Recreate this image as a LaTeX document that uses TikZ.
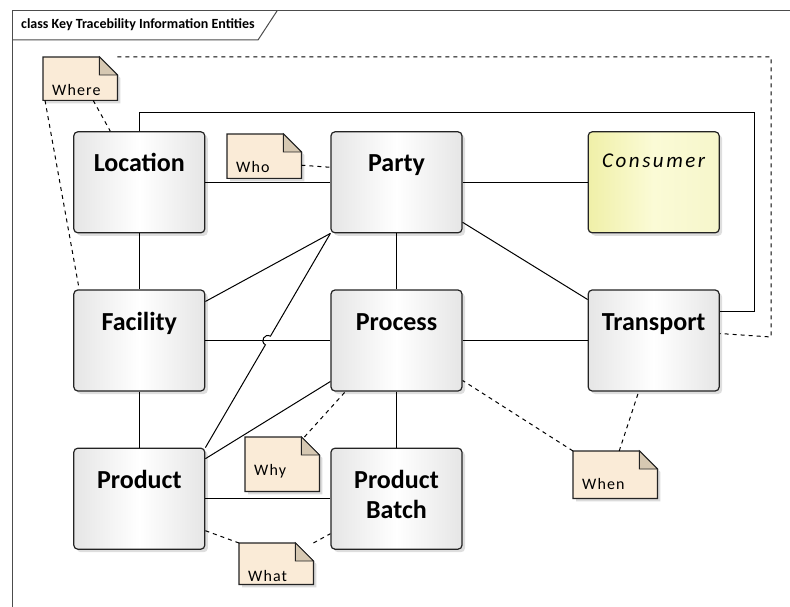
\documentclass[tikz,border=0pt]{standalone}
\usepackage{fontspec}
\setmainfont{Carlito}
\newfontfamily\notefont[LetterSpace=7]{Carlito}
\newfontfamily\consumerfont[LetterSpace=12]{Carlito}
\usetikzlibrary{matrix,shadows,calc,backgrounds}

\definecolor{notebg}{RGB}{250,235,215}
\definecolor{notefold}{RGB}{214,200,178}
\definecolor{consumerbg}{RGB}{240,240,168}
\definecolor{consumermid}{RGB}{251,251,214}
\definecolor{boxline}{RGB}{35,35,35}

% folded paper behind a note node
\newcommand{\notepaper}[1]{%
  \fill[black!14] ([shift={(3pt,-3pt)}]#1.south west) -- ([shift={(3pt,-3pt)}]#1.north west)
    -- ([shift={(-15pt,-3pt)}]#1.north east) -- ([shift={(3pt,-21pt)}]#1.north east)
    -- ([shift={(3pt,-3pt)}]#1.south east) -- cycle;
  \filldraw[fill=notebg, draw=boxline, line width=1.2pt] (#1.south west) -- (#1.north west)
    -- ([xshift=-18pt]#1.north east) -- ([yshift=-18pt]#1.north east) -- (#1.south east) -- cycle;
  \filldraw[fill=notefold, draw=boxline, line width=0.9pt] ([xshift=-18pt]#1.north east)
    -- ([shift={(-18pt,-18pt)}]#1.north east) -- ([yshift=-18pt]#1.north east) -- cycle;
}

\tikzset{
  entity/.style={draw=boxline, line width=1.2pt, rounded corners=4pt, anchor=center,
    minimum width=131pt, minimum height=101pt, inner sep=0pt,
    text height=20pt, text depth=41pt, font=\bfseries\fontsize{26}{30}\selectfont,
    left color=black!10, right color=black!10, middle color=white,
    drop shadow={shadow xshift=3pt, shadow yshift=-3pt, fill=black!13, opacity=1}},
  consumer/.style={left color=consumerbg, right color=consumerbg!60!white, middle color=consumermid,
    text height=16pt, text depth=45pt, font=\consumerfont\itshape\fontsize{21}{25}\selectfont},
  note/.style={anchor=north west, inner xsep=9pt, inner ysep=0pt, text width=56pt, align=left,
    text height=38pt, font=\notefont\fontsize{16}{18}\selectfont},
  link/.style={line width=1pt},
  trace/.style={line width=1pt, dash pattern=on 4pt off 4pt},
  frameline/.style={draw=black!70, line width=1pt}
}

\begin{document}
\begin{tikzpicture}[x=1pt, y=-1pt]
  \useasboundingbox (0,0) rectangle (790,607);
  \draw[frameline] (790,11) -- (12,11) -- (12,607);
  \draw[frameline] (12,40) -- (258,40) -- (277,11);
  \node[anchor=west, inner sep=4pt, font=\bfseries\fontsize{14}{16}\selectfont] (title) at (17,25)
    {class Key Tracebility Information Entities};

  \matrix[matrix of nodes, nodes=entity, ampersand replacement=\&, column sep=125pt, row sep=56pt] (diagram) at (396.5,340.5) {
    |(location)| Location \& |(party)| Party \& |[consumer](consumer)| Consumer \\
    |(facility)| Facility \& |(process)| Process \& |(transport)| Transport \\
    |(product)| Product \& |(productbatch)| \begin{tabular}[t]{@{}c@{}}Product\\Batch\end{tabular} \& \\
  };

  \node[note, text depth=5pt] (where) at (43,57) {Where};
  \node[note, text depth=6pt] (who) at (227,134) {Who};
  \node[note, text depth=16pt] (why) at (245,437) {Why};
  \node[note, text depth=3pt] (what) at (239,543) {What};
  \node[note, text depth=9pt, text width=66pt] (when) at (573,451) {When};
  \begin{scope}[on background layer]
    \notepaper{where}
    \notepaper{who}
    \notepaper{why}
    \notepaper{what}
    \notepaper{when}
  \end{scope}

  \draw[link] (location) -- (party);
  \draw[link] (party) -- (consumer);
  \draw[link] (location) -- (facility);
  \draw[link] (facility) -- (process);
  \draw[link] (process) -- (transport);
  \draw[link] (party) -- (process);
  \draw[link] (facility) -- (product);
  \draw[link] (process) -- (productbatch);
  \draw[link] (product) -- (productbatch);
  \draw[link] ([yshift=-40pt]party.east) -- ([yshift=41pt]transport.west);
  \draw[link] (party.south west) -- ([yshift=39pt]facility.east);
  \draw[link] ([yshift=40pt]product.east) -- ([yshift=-41pt]process.west);
  \coordinate (hop) at (intersection of party.south west--product.north east and facility.east--process.west);
  \draw[link] (party.south west) -- ($(hop)!5pt!(party.south west)$)
    .. controls +(150:6.7pt) and +(150:6.7pt) .. ($(hop)!5pt!(product.north east)$) -- (product.north east);
  \draw[link] (location.north) |- (754,113) |- ([yshift=29pt]transport.east);

  \draw[trace] (where.north east) -| (771,337) -- ([yshift=7pt]transport.east);
  \draw[trace] ([xshift=13pt]where.south) -- ([xshift=-29pt]location.north);
  \draw[trace] ([xshift=2pt]where.south west) -- ([xshift=6pt]facility.north west);
  \draw[trace] ([yshift=-9pt]who.east) -- ([yshift=15pt]party.west);
  \draw[trace] ([xshift=-15pt]why.north east) -- ([xshift=15pt]process.south west);
  \draw[trace] (when.north west) -- ([yshift=-40pt]process.east);
  \draw[trace] ([xshift=4pt]when.north) -- ([xshift=-15pt]transport.south);
  \draw[trace] ([yshift=-32pt]product.east) -- (what.north west);
  \draw[trace] (what.north east) -- ([yshift=-35pt]productbatch.west);
\end{tikzpicture}
\end{document}
